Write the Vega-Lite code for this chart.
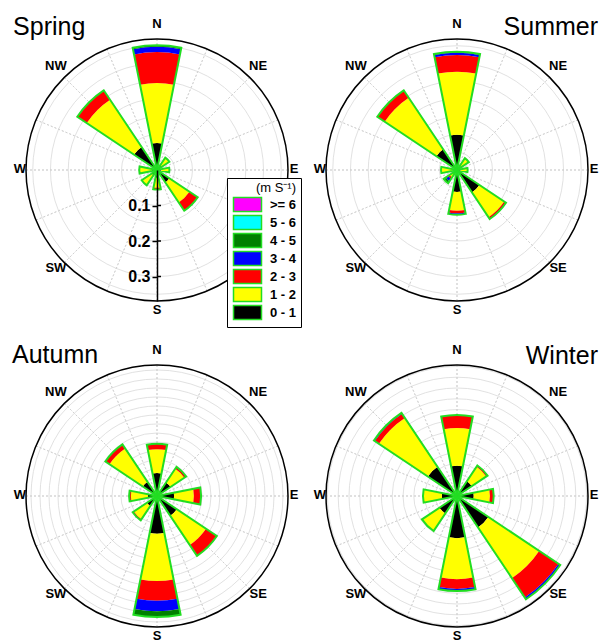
{
  "$schema": "https://vega.github.io/schema/vega-lite/v6.json",
  "padding": {"left": 11, "top": 12, "right": 0, "bottom": 0},
  "background": "white",
  "columns": 2,
  "spacing": {"column": 10, "row": 10},
  "bounds": "flush",
  "resolve": {"scale": {"radius": "independent", "theta": "independent", "y": "independent", "fill": "shared"}, "legend": {"fill": "shared"}},
  "datasets": {
    "rings": [
      {"s": "Spring", "r": 0.05}, {"s": "Spring", "r": 0.1}, {"s": "Spring", "r": 0.15}, {"s": "Spring", "r": 0.2}, {"s": "Spring", "r": 0.25}, {"s": "Spring", "r": 0.3}, {"s": "Spring", "r": 0.35},
      {"s": "Summer", "r": 0.05}, {"s": "Summer", "r": 0.1}, {"s": "Summer", "r": 0.15}, {"s": "Summer", "r": 0.2}, {"s": "Summer", "r": 0.25}, {"s": "Summer", "r": 0.3}, {"s": "Summer", "r": 0.35},
      {"s": "Autumn", "r": 0.02}, {"s": "Autumn", "r": 0.04}, {"s": "Autumn", "r": 0.06}, {"s": "Autumn", "r": 0.08}, {"s": "Autumn", "r": 0.1}, {"s": "Autumn", "r": 0.12}, {"s": "Autumn", "r": 0.14}, {"s": "Autumn", "r": 0.16}, {"s": "Autumn", "r": 0.18}, {"s": "Autumn", "r": 0.2}, {"s": "Autumn", "r": 0.22}, {"s": "Autumn", "r": 0.24}, {"s": "Autumn", "r": 0.26}, {"s": "Autumn", "r": 0.28},
      {"s": "Winter", "r": 0.02}, {"s": "Winter", "r": 0.04}, {"s": "Winter", "r": 0.06}, {"s": "Winter", "r": 0.08}, {"s": "Winter", "r": 0.1}, {"s": "Winter", "r": 0.12}, {"s": "Winter", "r": 0.14}, {"s": "Winter", "r": 0.16}, {"s": "Winter", "r": 0.18}, {"s": "Winter", "r": 0.2}, {"s": "Winter", "r": 0.22}, {"s": "Winter", "r": 0.24}
    ],
    "spokes": [
      {"a": 0}, {"a": 22.5}, {"a": 45}, {"a": 67.5}, {"a": 90}, {"a": 112.5}, {"a": 135}, {"a": 157.5},
      {"a": 180}, {"a": 202.5}, {"a": 225}, {"a": 247.5}, {"a": 270}, {"a": 292.5}, {"a": 315}, {"a": 337.5}
    ],
    "dirs": [
      {"lab": "N", "a": 0}, {"lab": "NE", "a": 45}, {"lab": "E", "a": 90}, {"lab": "SE", "a": 135},
      {"lab": "S", "a": 180}, {"lab": "SW", "a": 225}, {"lab": "W", "a": 270}, {"lab": "NW", "a": 315}
    ],
    "petals": [
      {"s": "Spring", "d": 0, "b": "0 - 1", "r0": 0, "r1": 0.076},
      {"s": "Spring", "d": 0, "b": "1 - 2", "r0": 0.076, "r1": 0.245},
      {"s": "Spring", "d": 0, "b": "2 - 3", "r0": 0.245, "r1": 0.332},
      {"s": "Spring", "d": 0, "b": "3 - 4", "r0": 0.332, "r1": 0.347},
      {"s": "Spring", "d": 0, "b": "4 - 5", "r0": 0.347, "r1": 0.351},
      {"s": "Spring", "d": 45, "b": "0 - 1", "r0": 0, "r1": 0.015},
      {"s": "Spring", "d": 45, "b": "1 - 2", "r0": 0.015, "r1": 0.042},
      {"s": "Spring", "d": 90, "b": "0 - 1", "r0": 0, "r1": 0.012},
      {"s": "Spring", "d": 90, "b": "1 - 2", "r0": 0.012, "r1": 0.035},
      {"s": "Spring", "d": 135, "b": "0 - 1", "r0": 0, "r1": 0.042},
      {"s": "Spring", "d": 135, "b": "1 - 2", "r0": 0.042, "r1": 0.11},
      {"s": "Spring", "d": 135, "b": "2 - 3", "r0": 0.11, "r1": 0.138},
      {"s": "Spring", "d": 180, "b": "0 - 1", "r0": 0, "r1": 0.022},
      {"s": "Spring", "d": 180, "b": "1 - 2", "r0": 0.022, "r1": 0.05},
      {"s": "Spring", "d": 180, "b": "2 - 3", "r0": 0.05, "r1": 0.055},
      {"s": "Spring", "d": 225, "b": "0 - 1", "r0": 0, "r1": 0.018},
      {"s": "Spring", "d": 225, "b": "1 - 2", "r0": 0.018, "r1": 0.052},
      {"s": "Spring", "d": 270, "b": "0 - 1", "r0": 0, "r1": 0.015},
      {"s": "Spring", "d": 270, "b": "1 - 2", "r0": 0.015, "r1": 0.05},
      {"s": "Spring", "d": 315, "b": "0 - 1", "r0": 0, "r1": 0.078},
      {"s": "Spring", "d": 315, "b": "1 - 2", "r0": 0.078, "r1": 0.238},
      {"s": "Spring", "d": 315, "b": "2 - 3", "r0": 0.238, "r1": 0.27},

      {"s": "Summer", "d": 0, "b": "0 - 1", "r0": 0, "r1": 0.099},
      {"s": "Summer", "d": 0, "b": "1 - 2", "r0": 0.099, "r1": 0.277},
      {"s": "Summer", "d": 0, "b": "2 - 3", "r0": 0.277, "r1": 0.324},
      {"s": "Summer", "d": 0, "b": "3 - 4", "r0": 0.324, "r1": 0.33},
      {"s": "Summer", "d": 0, "b": "4 - 5", "r0": 0.33, "r1": 0.333},
      {"s": "Summer", "d": 45, "b": "0 - 1", "r0": 0, "r1": 0.012},
      {"s": "Summer", "d": 45, "b": "1 - 2", "r0": 0.012, "r1": 0.04},
      {"s": "Summer", "d": 90, "b": "0 - 1", "r0": 0, "r1": 0.01},
      {"s": "Summer", "d": 90, "b": "1 - 2", "r0": 0.01, "r1": 0.03},
      {"s": "Summer", "d": 135, "b": "0 - 1", "r0": 0, "r1": 0.076},
      {"s": "Summer", "d": 135, "b": "1 - 2", "r0": 0.076, "r1": 0.16},
      {"s": "Summer", "d": 135, "b": "2 - 3", "r0": 0.16, "r1": 0.166},
      {"s": "Summer", "d": 180, "b": "0 - 1", "r0": 0, "r1": 0.062},
      {"s": "Summer", "d": 180, "b": "1 - 2", "r0": 0.062, "r1": 0.115},
      {"s": "Summer", "d": 180, "b": "2 - 3", "r0": 0.115, "r1": 0.122},
      {"s": "Summer", "d": 180, "b": "3 - 4", "r0": 0.122, "r1": 0.126},
      {"s": "Summer", "d": 225, "b": "0 - 1", "r0": 0, "r1": 0.01},
      {"s": "Summer", "d": 225, "b": "1 - 2", "r0": 0.01, "r1": 0.025},
      {"s": "Summer", "d": 225, "b": "2 - 3", "r0": 0.025, "r1": 0.03},
      {"s": "Summer", "d": 225, "b": "3 - 4", "r0": 0.03, "r1": 0.038},
      {"s": "Summer", "d": 225, "b": "4 - 5", "r0": 0.038, "r1": 0.045},
      {"s": "Summer", "d": 270, "b": "0 - 1", "r0": 0, "r1": 0.012},
      {"s": "Summer", "d": 270, "b": "1 - 2", "r0": 0.012, "r1": 0.045},
      {"s": "Summer", "d": 315, "b": "0 - 1", "r0": 0, "r1": 0.07},
      {"s": "Summer", "d": 315, "b": "1 - 2", "r0": 0.07, "r1": 0.245},
      {"s": "Summer", "d": 315, "b": "2 - 3", "r0": 0.245, "r1": 0.27},

      {"s": "Autumn", "d": 0, "b": "0 - 1", "r0": 0, "r1": 0.051},
      {"s": "Autumn", "d": 0, "b": "1 - 2", "r0": 0.051, "r1": 0.104},
      {"s": "Autumn", "d": 0, "b": "2 - 3", "r0": 0.104, "r1": 0.116},
      {"s": "Autumn", "d": 45, "b": "0 - 1", "r0": 0, "r1": 0.036},
      {"s": "Autumn", "d": 45, "b": "1 - 2", "r0": 0.036, "r1": 0.073},
      {"s": "Autumn", "d": 45, "b": "2 - 3", "r0": 0.073, "r1": 0.078},
      {"s": "Autumn", "d": 90, "b": "0 - 1", "r0": 0, "r1": 0.038},
      {"s": "Autumn", "d": 90, "b": "1 - 2", "r0": 0.038, "r1": 0.082},
      {"s": "Autumn", "d": 90, "b": "2 - 3", "r0": 0.082, "r1": 0.098},
      {"s": "Autumn", "d": 135, "b": "0 - 1", "r0": 0, "r1": 0.053},
      {"s": "Autumn", "d": 135, "b": "1 - 2", "r0": 0.053, "r1": 0.131},
      {"s": "Autumn", "d": 135, "b": "2 - 3", "r0": 0.131, "r1": 0.16},
      {"s": "Autumn", "d": 180, "b": "0 - 1", "r0": 0, "r1": 0.084},
      {"s": "Autumn", "d": 180, "b": "1 - 2", "r0": 0.084, "r1": 0.189},
      {"s": "Autumn", "d": 180, "b": "2 - 3", "r0": 0.189, "r1": 0.233},
      {"s": "Autumn", "d": 180, "b": "3 - 4", "r0": 0.233, "r1": 0.256},
      {"s": "Autumn", "d": 180, "b": "4 - 5", "r0": 0.256, "r1": 0.269},
      {"s": "Autumn", "d": 225, "b": "0 - 1", "r0": 0, "r1": 0.027},
      {"s": "Autumn", "d": 225, "b": "1 - 2", "r0": 0.027, "r1": 0.062},
      {"s": "Autumn", "d": 225, "b": "2 - 3", "r0": 0.062, "r1": 0.065},
      {"s": "Autumn", "d": 270, "b": "0 - 1", "r0": 0, "r1": 0.02},
      {"s": "Autumn", "d": 270, "b": "1 - 2", "r0": 0.02, "r1": 0.058},
      {"s": "Autumn", "d": 270, "b": "2 - 3", "r0": 0.058, "r1": 0.062},
      {"s": "Autumn", "d": 315, "b": "0 - 1", "r0": 0, "r1": 0.038},
      {"s": "Autumn", "d": 315, "b": "1 - 2", "r0": 0.038, "r1": 0.127},
      {"s": "Autumn", "d": 315, "b": "2 - 3", "r0": 0.127, "r1": 0.138},

      {"s": "Winter", "d": 0, "b": "0 - 1", "r0": 0, "r1": 0.056},
      {"s": "Winter", "d": 0, "b": "1 - 2", "r0": 0.056, "r1": 0.126},
      {"s": "Winter", "d": 0, "b": "2 - 3", "r0": 0.126, "r1": 0.15},
      {"s": "Winter", "d": 45, "b": "0 - 1", "r0": 0, "r1": 0.033},
      {"s": "Winter", "d": 45, "b": "1 - 2", "r0": 0.033, "r1": 0.065},
      {"s": "Winter", "d": 45, "b": "2 - 3", "r0": 0.065, "r1": 0.068},
      {"s": "Winter", "d": 90, "b": "0 - 1", "r0": 0, "r1": 0.031},
      {"s": "Winter", "d": 90, "b": "1 - 2", "r0": 0.031, "r1": 0.061},
      {"s": "Winter", "d": 90, "b": "2 - 3", "r0": 0.061, "r1": 0.068},
      {"s": "Winter", "d": 135, "b": "0 - 1", "r0": 0, "r1": 0.07},
      {"s": "Winter", "d": 135, "b": "1 - 2", "r0": 0.07, "r1": 0.183},
      {"s": "Winter", "d": 135, "b": "2 - 3", "r0": 0.183, "r1": 0.226},
      {"s": "Winter", "d": 135, "b": "3 - 4", "r0": 0.226, "r1": 0.23},
      {"s": "Winter", "d": 180, "b": "0 - 1", "r0": 0, "r1": 0.078},
      {"s": "Winter", "d": 180, "b": "1 - 2", "r0": 0.078, "r1": 0.154},
      {"s": "Winter", "d": 180, "b": "2 - 3", "r0": 0.154, "r1": 0.172},
      {"s": "Winter", "d": 180, "b": "3 - 4", "r0": 0.172, "r1": 0.176},
      {"s": "Winter", "d": 225, "b": "0 - 1", "r0": 0, "r1": 0.039},
      {"s": "Winter", "d": 225, "b": "1 - 2", "r0": 0.039, "r1": 0.078},
      {"s": "Winter", "d": 270, "b": "0 - 1", "r0": 0, "r1": 0.028},
      {"s": "Winter", "d": 270, "b": "1 - 2", "r0": 0.028, "r1": 0.063},
      {"s": "Winter", "d": 315, "b": "0 - 1", "r0": 0, "r1": 0.065},
      {"s": "Winter", "d": 315, "b": "1 - 2", "r0": 0.065, "r1": 0.174},
      {"s": "Winter", "d": 315, "b": "2 - 3", "r0": 0.174, "r1": 0.183},
      {"s": "Winter", "d": 315, "b": "3 - 4", "r0": 0.183, "r1": 0.185}
    ]
  },
  "concat": [
    {
      "width": 290, "height": 316,
      "layer": [
        {"data": {"name": "rings"}, "transform": [{"filter": "datum.s === 'Spring'"}],
         "mark": {"type": "arc", "filled": false, "stroke": "#d9d9d9", "strokeWidth": 0.8},
         "encoding": {"theta": {"datum": 0, "scale": {"type": "linear", "domain": [0, 360], "range": [0, 6.283185307179586], "nice": false}}, "theta2": {"datum": 360},
                      "radius": {"field": "r", "type": "quantitative", "stack": null, "scale": {"type": "linear", "domain": [0, 0.369], "range": [0, 131], "nice": false, "zero": true}}}},
        {"data": {"name": "spokes"},
         "mark": {"type": "arc", "filled": false, "stroke": "#cfcfcf", "strokeWidth": 0.8, "strokeDash": [2, 2]},
         "encoding": {"theta": {"field": "a", "type": "quantitative", "stack": null, "scale": {"type": "linear", "domain": [0, 360], "range": [0, 6.283185307179586], "nice": false}}, "theta2": {"field": "a"},
                      "radius": {"datum": 0.369, "scale": {"type": "linear", "domain": [0, 0.369], "range": [0, 131], "nice": false, "zero": true}}, "radius2": {"datum": 0}}},
        {"data": {"name": "petals"}, "transform": [{"filter": "datum.s === 'Spring'"}],
         "mark": {"type": "arc", "thetaOffset": -0.19635, "theta2Offset": 0.19635},
         "encoding": {"theta": {"field": "d", "type": "quantitative", "stack": null, "scale": {"type": "linear", "domain": [0, 360], "range": [0, 6.283185307179586], "nice": false}}, "theta2": {"field": "d"},
                      "radius": {"field": "r1", "type": "quantitative", "stack": null, "scale": {"type": "linear", "domain": [0, 0.369], "range": [0, 131], "nice": false, "zero": true}}, "radius2": {"field": "r0"},
                      "fill": {"field": "b", "type": "nominal", "title": "(m S⁻¹)", "scale": {"domain": [">= 6", "5 - 6", "4 - 5", "3 - 4", "2 - 3", "1 - 2", "0 - 1"], "range": ["#ff00ff", "#00ffff", "#008000", "#0000ff", "#ff0000", "#ffff00", "#000000"]}}}},
        {"data": {"name": "petals"}, "transform": [{"filter": "datum.s === 'Spring'"}, {"aggregate": [{"op": "max", "field": "r1", "as": "t"}], "groupby": ["d"]}],
         "mark": {"type": "arc", "filled": false, "stroke": "#22dd22", "strokeWidth": 2, "thetaOffset": -0.19635, "theta2Offset": 0.19635},
         "encoding": {"theta": {"field": "d", "type": "quantitative", "stack": null, "scale": {"type": "linear", "domain": [0, 360], "range": [0, 6.283185307179586], "nice": false}}, "theta2": {"field": "d"},
                      "radius": {"field": "t", "type": "quantitative", "stack": null, "scale": {"type": "linear", "domain": [0, 0.369], "range": [0, 131], "nice": false, "zero": true}}}},
        {"data": {"values": [{}]},
         "mark": {"type": "arc", "filled": false, "stroke": "black", "strokeWidth": 1.5},
         "encoding": {"theta": {"datum": 0, "scale": {"type": "linear", "domain": [0, 360], "range": [0, 6.283185307179586], "nice": false}}, "theta2": {"datum": 360},
                      "radius": {"datum": 0.369, "scale": {"type": "linear", "domain": [0, 0.369], "range": [0, 131], "nice": false, "zero": true}}}},
        {"data": {"name": "dirs"}, "transform": [{"filter": "datum.a !== 90 && datum.a !== 270"}],
         "mark": {"type": "text", "font": "Liberation Sans", "fontSize": 13, "fontWeight": "bold", "align": "center", "baseline": "middle", "color": "black", "dy": -3},
         "encoding": {"text": {"field": "lab"}, "theta": {"field": "a", "type": "quantitative", "stack": null, "scale": {"type": "linear", "domain": [0, 360], "range": [0, 6.283185307179586], "nice": false}},
                      "radius": {"datum": 0.4028, "scale": {"type": "linear", "domain": [0, 0.369], "range": [0, 131], "nice": false, "zero": true}}}},
        {"data": {"name": "dirs"}, "transform": [{"filter": "datum.a === 90 || datum.a === 270"}],
         "mark": {"type": "text", "font": "Liberation Sans", "fontSize": 13, "fontWeight": "bold", "align": "center", "baseline": "middle", "color": "black", "dy": -1},
         "encoding": {"text": {"field": "lab"}, "theta": {"field": "a", "type": "quantitative", "stack": null, "scale": {"type": "linear", "domain": [0, 360], "range": [0, 6.283185307179586], "nice": false}},
                      "radius": {"datum": 0.3859, "scale": {"type": "linear", "domain": [0, 0.369], "range": [0, 131], "nice": false, "zero": true}}}},
        {"data": {"values": [{}]},
         "mark": {"type": "text", "font": "Liberation Sans", "fontSize": 25, "align": "left", "baseline": "alphabetic", "color": "black"},
         "encoding": {"text": {"value": "Spring"}, "theta": {"datum": 313.2, "scale": {"type": "linear", "domain": [0, 360], "range": [0, 6.283185307179586], "nice": false}},
                      "radius": {"datum": 0.556, "scale": {"type": "linear", "domain": [0, 0.369], "range": [0, 131], "nice": false, "zero": true}}}},
        {"data": {"values": [{"v": 0.1}, {"v": 0.2}, {"v": 0.3}]},
         "mark": {"type": "point", "shape": "M0,0H1", "size": 64, "filled": false, "stroke": "black", "strokeWidth": 1.5, "opacity": 1},
         "encoding": {"y": {"field": "v", "type": "quantitative", "scale": {"type": "linear", "domain": [0, 0.369], "range": [158, 289], "nice": false, "zero": true},
                            "axis": {"orient": "left", "offset": -145, "zindex": 1, "values": [0.1, 0.2, 0.3], "format": ".1f", "title": null, "grid": false,
                                     "domainColor": "black", "domainWidth": 1.5, "domainDash": [], "ticks": true, "tickSize": 5, "tickColor": "black", "tickWidth": 1.5,
                                     "labelFont": "Liberation Sans", "labelFontSize": 16, "labelFontWeight": "bold", "labelColor": "black", "labelPadding": 2}}}}
      ]
    },
    {
      "width": 290, "height": 316,
      "layer": [
        {"data": {"name": "rings"}, "transform": [{"filter": "datum.s === 'Summer'"}],
         "mark": {"type": "arc", "filled": false, "stroke": "#d9d9d9", "strokeWidth": 0.8},
         "encoding": {"theta": {"datum": 0, "scale": {"type": "linear", "domain": [0, 360], "range": [0, 6.283185307179586], "nice": false}}, "theta2": {"datum": 360},
                      "radius": {"field": "r", "type": "quantitative", "stack": null, "scale": {"type": "linear", "domain": [0, 0.369], "range": [0, 131], "nice": false, "zero": true}}}},
        {"data": {"name": "spokes"},
         "mark": {"type": "arc", "filled": false, "stroke": "#cfcfcf", "strokeWidth": 0.8, "strokeDash": [2, 2]},
         "encoding": {"theta": {"field": "a", "type": "quantitative", "stack": null, "scale": {"type": "linear", "domain": [0, 360], "range": [0, 6.283185307179586], "nice": false}}, "theta2": {"field": "a"},
                      "radius": {"datum": 0.369, "scale": {"type": "linear", "domain": [0, 0.369], "range": [0, 131], "nice": false, "zero": true}}, "radius2": {"datum": 0}}},
        {"data": {"name": "petals"}, "transform": [{"filter": "datum.s === 'Summer'"}],
         "mark": {"type": "arc", "thetaOffset": -0.19635, "theta2Offset": 0.19635},
         "encoding": {"theta": {"field": "d", "type": "quantitative", "stack": null, "scale": {"type": "linear", "domain": [0, 360], "range": [0, 6.283185307179586], "nice": false}}, "theta2": {"field": "d"},
                      "radius": {"field": "r1", "type": "quantitative", "stack": null, "scale": {"type": "linear", "domain": [0, 0.369], "range": [0, 131], "nice": false, "zero": true}}, "radius2": {"field": "r0"},
                      "fill": {"field": "b", "type": "nominal", "title": "(m S⁻¹)", "scale": {"domain": [">= 6", "5 - 6", "4 - 5", "3 - 4", "2 - 3", "1 - 2", "0 - 1"], "range": ["#ff00ff", "#00ffff", "#008000", "#0000ff", "#ff0000", "#ffff00", "#000000"]}}}},
        {"data": {"name": "petals"}, "transform": [{"filter": "datum.s === 'Summer'"}, {"aggregate": [{"op": "max", "field": "r1", "as": "t"}], "groupby": ["d"]}],
         "mark": {"type": "arc", "filled": false, "stroke": "#22dd22", "strokeWidth": 2, "thetaOffset": -0.19635, "theta2Offset": 0.19635},
         "encoding": {"theta": {"field": "d", "type": "quantitative", "stack": null, "scale": {"type": "linear", "domain": [0, 360], "range": [0, 6.283185307179586], "nice": false}}, "theta2": {"field": "d"},
                      "radius": {"field": "t", "type": "quantitative", "stack": null, "scale": {"type": "linear", "domain": [0, 0.369], "range": [0, 131], "nice": false, "zero": true}}}},
        {"data": {"values": [{}]},
         "mark": {"type": "arc", "filled": false, "stroke": "black", "strokeWidth": 1.5},
         "encoding": {"theta": {"datum": 0, "scale": {"type": "linear", "domain": [0, 360], "range": [0, 6.283185307179586], "nice": false}}, "theta2": {"datum": 360},
                      "radius": {"datum": 0.369, "scale": {"type": "linear", "domain": [0, 0.369], "range": [0, 131], "nice": false, "zero": true}}}},
        {"data": {"name": "dirs"}, "transform": [{"filter": "datum.a !== 90 && datum.a !== 270"}],
         "mark": {"type": "text", "font": "Liberation Sans", "fontSize": 13, "fontWeight": "bold", "align": "center", "baseline": "middle", "color": "black", "dy": -3},
         "encoding": {"text": {"field": "lab"}, "theta": {"field": "a", "type": "quantitative", "stack": null, "scale": {"type": "linear", "domain": [0, 360], "range": [0, 6.283185307179586], "nice": false}},
                      "radius": {"datum": 0.4028, "scale": {"type": "linear", "domain": [0, 0.369], "range": [0, 131], "nice": false, "zero": true}}}},
        {"data": {"name": "dirs"}, "transform": [{"filter": "datum.a === 90 || datum.a === 270"}],
         "mark": {"type": "text", "font": "Liberation Sans", "fontSize": 13, "fontWeight": "bold", "align": "center", "baseline": "middle", "color": "black", "dy": -1},
         "encoding": {"text": {"field": "lab"}, "theta": {"field": "a", "type": "quantitative", "stack": null, "scale": {"type": "linear", "domain": [0, 360], "range": [0, 6.283185307179586], "nice": false}},
                      "radius": {"datum": 0.3859, "scale": {"type": "linear", "domain": [0, 0.369], "range": [0, 131], "nice": false, "zero": true}}}},
        {"data": {"values": [{}]},
         "mark": {"type": "text", "font": "Liberation Sans", "fontSize": 25, "align": "right", "baseline": "alphabetic", "color": "black"},
         "encoding": {"text": {"value": "Summer"}, "theta": {"datum": 46.24, "scale": {"type": "linear", "domain": [0, 360], "range": [0, 6.283185307179586], "nice": false}},
                      "radius": {"datum": 0.55, "scale": {"type": "linear", "domain": [0, 0.369], "range": [0, 131], "nice": false, "zero": true}}}}
      ]
    },
    {
      "width": 290, "height": 316,
      "layer": [
        {"data": {"name": "rings"}, "transform": [{"filter": "datum.s === 'Autumn'"}],
         "mark": {"type": "arc", "filled": false, "stroke": "#d9d9d9", "strokeWidth": 0.8},
         "encoding": {"theta": {"datum": 0, "scale": {"type": "linear", "domain": [0, 360], "range": [0, 6.283185307179586], "nice": false}}, "theta2": {"datum": 360},
                      "radius": {"field": "r", "type": "quantitative", "stack": null, "scale": {"type": "linear", "domain": [0, 0.2911], "range": [0, 131], "nice": false, "zero": true}}}},
        {"data": {"name": "spokes"},
         "mark": {"type": "arc", "filled": false, "stroke": "#cfcfcf", "strokeWidth": 0.8, "strokeDash": [2, 2]},
         "encoding": {"theta": {"field": "a", "type": "quantitative", "stack": null, "scale": {"type": "linear", "domain": [0, 360], "range": [0, 6.283185307179586], "nice": false}}, "theta2": {"field": "a"},
                      "radius": {"datum": 0.2911, "scale": {"type": "linear", "domain": [0, 0.2911], "range": [0, 131], "nice": false, "zero": true}}, "radius2": {"datum": 0}}},
        {"data": {"name": "petals"}, "transform": [{"filter": "datum.s === 'Autumn'"}],
         "mark": {"type": "arc", "thetaOffset": -0.19635, "theta2Offset": 0.19635},
         "encoding": {"theta": {"field": "d", "type": "quantitative", "stack": null, "scale": {"type": "linear", "domain": [0, 360], "range": [0, 6.283185307179586], "nice": false}}, "theta2": {"field": "d"},
                      "radius": {"field": "r1", "type": "quantitative", "stack": null, "scale": {"type": "linear", "domain": [0, 0.2911], "range": [0, 131], "nice": false, "zero": true}}, "radius2": {"field": "r0"},
                      "fill": {"field": "b", "type": "nominal", "title": "(m S⁻¹)", "scale": {"domain": [">= 6", "5 - 6", "4 - 5", "3 - 4", "2 - 3", "1 - 2", "0 - 1"], "range": ["#ff00ff", "#00ffff", "#008000", "#0000ff", "#ff0000", "#ffff00", "#000000"]}}}},
        {"data": {"name": "petals"}, "transform": [{"filter": "datum.s === 'Autumn'"}, {"aggregate": [{"op": "max", "field": "r1", "as": "t"}], "groupby": ["d"]}],
         "mark": {"type": "arc", "filled": false, "stroke": "#22dd22", "strokeWidth": 2, "thetaOffset": -0.19635, "theta2Offset": 0.19635},
         "encoding": {"theta": {"field": "d", "type": "quantitative", "stack": null, "scale": {"type": "linear", "domain": [0, 360], "range": [0, 6.283185307179586], "nice": false}}, "theta2": {"field": "d"},
                      "radius": {"field": "t", "type": "quantitative", "stack": null, "scale": {"type": "linear", "domain": [0, 0.2911], "range": [0, 131], "nice": false, "zero": true}}}},
        {"data": {"values": [{}]},
         "mark": {"type": "arc", "filled": false, "stroke": "black", "strokeWidth": 1.5},
         "encoding": {"theta": {"datum": 0, "scale": {"type": "linear", "domain": [0, 360], "range": [0, 6.283185307179586], "nice": false}}, "theta2": {"datum": 360},
                      "radius": {"datum": 0.2911, "scale": {"type": "linear", "domain": [0, 0.2911], "range": [0, 131], "nice": false, "zero": true}}}},
        {"data": {"name": "dirs"}, "transform": [{"filter": "datum.a !== 90 && datum.a !== 270"}],
         "mark": {"type": "text", "font": "Liberation Sans", "fontSize": 13, "fontWeight": "bold", "align": "center", "baseline": "middle", "color": "black", "dy": -3},
         "encoding": {"text": {"field": "lab"}, "theta": {"field": "a", "type": "quantitative", "stack": null, "scale": {"type": "linear", "domain": [0, 360], "range": [0, 6.283185307179586], "nice": false}},
                      "radius": {"datum": 0.3178, "scale": {"type": "linear", "domain": [0, 0.2911], "range": [0, 131], "nice": false, "zero": true}}}},
        {"data": {"name": "dirs"}, "transform": [{"filter": "datum.a === 90 || datum.a === 270"}],
         "mark": {"type": "text", "font": "Liberation Sans", "fontSize": 13, "fontWeight": "bold", "align": "center", "baseline": "middle", "color": "black", "dy": -1},
         "encoding": {"text": {"field": "lab"}, "theta": {"field": "a", "type": "quantitative", "stack": null, "scale": {"type": "linear", "domain": [0, 360], "range": [0, 6.283185307179586], "nice": false}},
                      "radius": {"datum": 0.3044, "scale": {"type": "linear", "domain": [0, 0.2911], "range": [0, 131], "nice": false, "zero": true}}}},
        {"data": {"values": [{}]},
         "mark": {"type": "text", "font": "Liberation Sans", "fontSize": 25, "align": "left", "baseline": "alphabetic", "color": "black"},
         "encoding": {"text": {"value": "Autumn"}, "theta": {"datum": 312.53, "scale": {"type": "linear", "domain": [0, 360], "range": [0, 6.283185307179586], "nice": false}},
                      "radius": {"datum": 0.4373, "scale": {"type": "linear", "domain": [0, 0.2911], "range": [0, 131], "nice": false, "zero": true}}}}
      ]
    },
    {
      "width": 290, "height": 316,
      "layer": [
        {"data": {"name": "rings"}, "transform": [{"filter": "datum.s === 'Winter'"}],
         "mark": {"type": "arc", "filled": false, "stroke": "#d9d9d9", "strokeWidth": 0.8},
         "encoding": {"theta": {"datum": 0, "scale": {"type": "linear", "domain": [0, 360], "range": [0, 6.283185307179586], "nice": false}}, "theta2": {"datum": 360},
                      "radius": {"field": "r", "type": "quantitative", "stack": null, "scale": {"type": "linear", "domain": [0, 0.2426], "range": [0, 131], "nice": false, "zero": true}}}},
        {"data": {"name": "spokes"},
         "mark": {"type": "arc", "filled": false, "stroke": "#cfcfcf", "strokeWidth": 0.8, "strokeDash": [2, 2]},
         "encoding": {"theta": {"field": "a", "type": "quantitative", "stack": null, "scale": {"type": "linear", "domain": [0, 360], "range": [0, 6.283185307179586], "nice": false}}, "theta2": {"field": "a"},
                      "radius": {"datum": 0.2426, "scale": {"type": "linear", "domain": [0, 0.2426], "range": [0, 131], "nice": false, "zero": true}}, "radius2": {"datum": 0}}},
        {"data": {"name": "petals"}, "transform": [{"filter": "datum.s === 'Winter'"}],
         "mark": {"type": "arc", "thetaOffset": -0.19635, "theta2Offset": 0.19635},
         "encoding": {"theta": {"field": "d", "type": "quantitative", "stack": null, "scale": {"type": "linear", "domain": [0, 360], "range": [0, 6.283185307179586], "nice": false}}, "theta2": {"field": "d"},
                      "radius": {"field": "r1", "type": "quantitative", "stack": null, "scale": {"type": "linear", "domain": [0, 0.2426], "range": [0, 131], "nice": false, "zero": true}}, "radius2": {"field": "r0"},
                      "fill": {"field": "b", "type": "nominal", "title": "(m S⁻¹)", "scale": {"domain": [">= 6", "5 - 6", "4 - 5", "3 - 4", "2 - 3", "1 - 2", "0 - 1"], "range": ["#ff00ff", "#00ffff", "#008000", "#0000ff", "#ff0000", "#ffff00", "#000000"]}}}},
        {"data": {"name": "petals"}, "transform": [{"filter": "datum.s === 'Winter'"}, {"aggregate": [{"op": "max", "field": "r1", "as": "t"}], "groupby": ["d"]}],
         "mark": {"type": "arc", "filled": false, "stroke": "#22dd22", "strokeWidth": 2, "thetaOffset": -0.19635, "theta2Offset": 0.19635},
         "encoding": {"theta": {"field": "d", "type": "quantitative", "stack": null, "scale": {"type": "linear", "domain": [0, 360], "range": [0, 6.283185307179586], "nice": false}}, "theta2": {"field": "d"},
                      "radius": {"field": "t", "type": "quantitative", "stack": null, "scale": {"type": "linear", "domain": [0, 0.2426], "range": [0, 131], "nice": false, "zero": true}}}},
        {"data": {"values": [{}]},
         "mark": {"type": "arc", "filled": false, "stroke": "black", "strokeWidth": 1.5},
         "encoding": {"theta": {"datum": 0, "scale": {"type": "linear", "domain": [0, 360], "range": [0, 6.283185307179586], "nice": false}}, "theta2": {"datum": 360},
                      "radius": {"datum": 0.2426, "scale": {"type": "linear", "domain": [0, 0.2426], "range": [0, 131], "nice": false, "zero": true}}}},
        {"data": {"name": "dirs"}, "transform": [{"filter": "datum.a !== 90 && datum.a !== 270"}],
         "mark": {"type": "text", "font": "Liberation Sans", "fontSize": 13, "fontWeight": "bold", "align": "center", "baseline": "middle", "color": "black", "dy": -3},
         "encoding": {"text": {"field": "lab"}, "theta": {"field": "a", "type": "quantitative", "stack": null, "scale": {"type": "linear", "domain": [0, 360], "range": [0, 6.283185307179586], "nice": false}},
                      "radius": {"datum": 0.2648, "scale": {"type": "linear", "domain": [0, 0.2426], "range": [0, 131], "nice": false, "zero": true}}}},
        {"data": {"name": "dirs"}, "transform": [{"filter": "datum.a === 90 || datum.a === 270"}],
         "mark": {"type": "text", "font": "Liberation Sans", "fontSize": 13, "fontWeight": "bold", "align": "center", "baseline": "middle", "color": "black", "dy": -1},
         "encoding": {"text": {"field": "lab"}, "theta": {"field": "a", "type": "quantitative", "stack": null, "scale": {"type": "linear", "domain": [0, 360], "range": [0, 6.283185307179586], "nice": false}},
                      "radius": {"datum": 0.2537, "scale": {"type": "linear", "domain": [0, 0.2426], "range": [0, 131], "nice": false, "zero": true}}}},
        {"data": {"values": [{}]},
         "mark": {"type": "text", "font": "Liberation Sans", "fontSize": 25, "align": "right", "baseline": "alphabetic", "color": "black"},
         "encoding": {"text": {"value": "Winter"}, "theta": {"datum": 46.89, "scale": {"type": "linear", "domain": [0, 360], "range": [0, 6.283185307179586], "nice": false}},
                      "radius": {"datum": 0.3576, "scale": {"type": "linear", "domain": [0, 0.2426], "range": [0, 131], "nice": false, "zero": true}}}}
      ]
    }
  ],
  "config": {
    "view": {"stroke": null},
    "legend": {
      "orient": "none", "legendX": 215, "legendY": 166, "direction": "vertical",
      "strokeColor": "black", "fillColor": "white", "padding": 4,
      "titleFont": "Liberation Sans", "titleFontSize": 13, "titleFontWeight": "normal", "titleColor": "#000000", "titleAnchor": "end", "titlePadding": 3,
      "labelFont": "Liberation Sans", "labelFontSize": 13, "labelFontWeight": "bold", "labelColor": "black",
      "symbolType": "M-4,-2H4V2H-4Z", "symbolSize": 49, "symbolStrokeColor": "#22dd22", "symbolStrokeWidth": 1.5, "symbolOpacity": 1,
      "rowPadding": -3, "labelOffset": 16, "symbolOffset": 10
    }
  }
}
